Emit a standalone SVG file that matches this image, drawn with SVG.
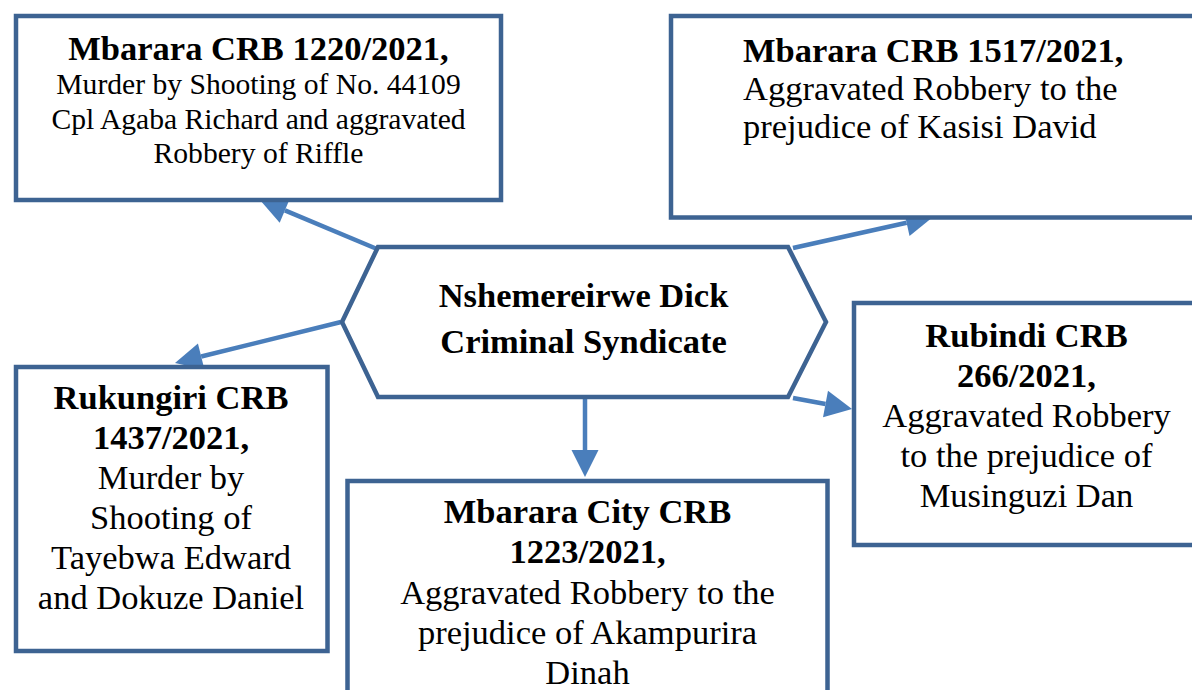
<svg xmlns="http://www.w3.org/2000/svg" width="1192" height="690" viewBox="0 0 1192 690">
<style>
.box{fill:#ffffff;stroke:#3d6392;stroke-width:4.5;stroke-linejoin:miter}
.con{fill:none;stroke:#4a7ebb;stroke-width:4.5}
text{font-family:"Liberation Serif","Times New Roman",serif;fill:#000000}
.b{font-weight:bold;font-size:34.5px}
.r{font-size:34.5px}
.s{font-size:29.6px}
.c{text-anchor:middle}
</style>
<defs>
<marker id="ah" markerUnits="userSpaceOnUse" markerWidth="27" markerHeight="27" viewBox="0 0 27 27" refX="0" refY="13.5" orient="auto" overflow="visible">
<path d="M0,0 L27,13.5 L0,27 z" fill="#4a7ebb"/>
</marker>
</defs>
<rect width="1192" height="690" fill="#ffffff"/>
<g id="connectors">
<line class="con" x1="377" y1="249" x2="284.9" y2="210.4" marker-end="url(#ah)"/>
<line class="con" x1="793" y1="248" x2="906.6" y2="222.8" marker-end="url(#ah)"/>
<line class="con" x1="341" y1="322" x2="201.2" y2="356.5" marker-end="url(#ah)"/>
<line class="con" x1="585" y1="397" x2="585" y2="450" marker-end="url(#ah)"/>
<line class="con" x1="793" y1="398" x2="825.5" y2="404.05" marker-end="url(#ah)"/>
</g>
<g id="center">
<polygon class="box" points="378,247 788,247 826,322 788,397 378,397 342,322"/>
<text class="b c" x="583.5" y="307">Nshemereirwe Dick</text>
<text class="b c" x="583.5" y="353">Criminal Syndicate</text>
</g>
<g id="box1">
<rect class="box" x="16" y="16" width="485" height="184"/>
<text class="b c" x="258.5" y="60">Mbarara CRB 1220/2021,</text>
<text class="s c" x="258.5" y="94">Murder by Shooting of No. 44109</text>
<text class="s c" x="258.5" y="129">Cpl Agaba Richard and aggravated</text>
<text class="s c" x="258.5" y="163">Robbery of Riffle</text>
</g>
<g id="box2">
<rect class="box" x="671" y="16" width="540" height="201.5"/>
<text class="b" x="743" y="62">Mbarara CRB 1517/2021,</text>
<text class="r" x="743" y="100">Aggravated Robbery to the</text>
<text class="r" x="743" y="138">prejudice of Kasisi David</text>
</g>
<g id="box3">
<rect class="box" x="854" y="303" width="400" height="242"/>
<text class="b c" x="1026.5" y="347">Rubindi CRB</text>
<text class="b c" x="1026.5" y="387">266/2021,</text>
<text class="r c" x="1026.5" y="427">Aggravated Robbery</text>
<text class="r c" x="1026.5" y="467">to the prejudice of</text>
<text class="r c" x="1026.5" y="507">Musinguzi Dan</text>
</g>
<g id="box4">
<rect class="box" x="16" y="367" width="311.5" height="284"/>
<text class="b c" x="171" y="409">Rukungiri CRB</text>
<text class="b c" x="171" y="449">1437/2021,</text>
<text class="r c" x="171" y="489">Murder by</text>
<text class="r c" x="171" y="529">Shooting of</text>
<text class="r c" x="171" y="569">Tayebwa Edward</text>
<text class="r c" x="171" y="609">and Dokuze Daniel</text>
</g>
<g id="box5">
<rect class="box" x="347.5" y="481" width="480" height="300"/>
<text class="b c" x="587.5" y="523">Mbarara City CRB</text>
<text class="b c" x="587.5" y="563">1223/2021,</text>
<text class="r c" x="587.5" y="603.5">Aggravated Robbery to the</text>
<text class="r c" x="587.5" y="643.5">prejudice of Akampurira</text>
<text class="r c" x="587.5" y="683.5">Dinah</text>
</g>
</svg>
